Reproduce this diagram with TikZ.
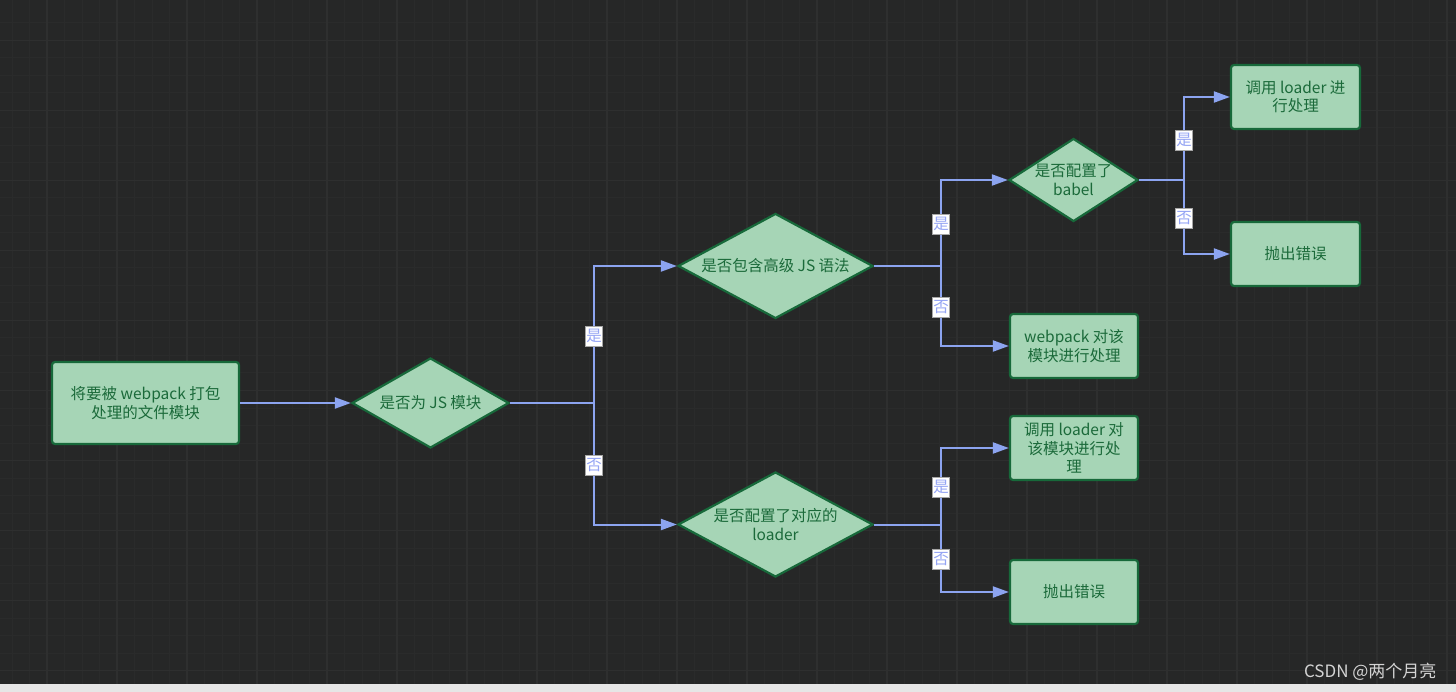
\documentclass[tikz,border=0pt]{standalone}
\usepackage{fontspec}
\setmainfont{Noto Sans CJK SC}
\usetikzlibrary{shapes.geometric,arrows.meta}
\definecolor{bgc}{HTML}{262727}
\definecolor{gridminor}{HTML}{2A2B2B}
\definecolor{gridmajor}{HTML}{2E2F2F}
\definecolor{nodefill}{HTML}{A6D5B6}
\definecolor{nodeborder}{HTML}{17693A}
\definecolor{nodetext}{HTML}{1B6A3A}
\definecolor{linec}{HTML}{8CA4F0}
\definecolor{lbltext}{HTML}{94A4F4}
\definecolor{stripc}{HTML}{E6E6E6}
\definecolor{wmc}{HTML}{D4D4D4}
\begin{document}
\begin{tikzpicture}[x=1pt,y=-1pt,
  every node/.style={font=\fontsize{15.5}{18.5}\selectfont},
  procbox/.style={draw=nodeborder, line width=2.2pt, fill=nodefill, rounded corners=3pt,
     text=nodetext, align=center, inner sep=0pt},
  decbox/.style={diamond, draw=nodeborder, line width=2.2pt, fill=nodefill,
     text=nodetext, align=center, inner sep=0pt},
  conn/.style={draw=linec, line width=2pt},
  arr/.style={conn, -{Triangle[length=16pt,width=11pt]}},
  lbl/.style={draw=gray!70, line width=0.8pt, fill=white, text=lbltext, inner sep=1pt,
     minimum width=17pt, minimum height=20pt}
]
\useasboundingbox (0,0) rectangle (1456,692);
% background
\fill[bgc] (-2,-2) rectangle (1458,694);
\foreach \x in {12,29.5,...,1456} \draw[gridminor, line width=1pt] (\x,0) -- (\x,684);
\foreach \y in {23,40.5,...,684} \draw[gridminor, line width=1pt] (0,\y) -- (1456,\y);
\foreach \x in {47,117,...,1456} \draw[gridmajor, line width=1.2pt] (\x,0) -- (\x,684);
\foreach \y in {40.5,110.5,...,684} \draw[gridmajor, line width=1.2pt] (0,\y) -- (1456,\y);
\fill[stripc] (-2,684) rectangle (1458,694);

% nodes
\node[procbox, minimum width=187pt, minimum height=82pt] (start) at (145.5,403) {将要被 webpack 打包\\处理的文件模块};
\node[decbox, minimum width=157pt, minimum height=90pt, shape aspect=1.74] (d1) at (430.5,403) {是否为 JS 模块};
\node[decbox, minimum width=195pt, minimum height=105pt, shape aspect=1.86] (d2) at (775.5,266) {是否包含高级 JS 语法};
\node[decbox, minimum width=195pt, minimum height=105pt, shape aspect=1.86] (d3) at (775.5,524.5) {是否配置了对应的\\loader};
\node[decbox, minimum width=129pt, minimum height=83pt, shape aspect=1.55] (d4) at (1073.5,180) {是否配置了\\babel};
\node[procbox, minimum width=129pt, minimum height=64pt] (r1) at (1295.5,97) {调用 loader 进\\行处理};
\node[procbox, minimum width=129pt, minimum height=64pt] (r2) at (1295.5,254) {抛出错误};
\node[procbox, minimum width=128pt, minimum height=64pt] (r3) at (1074,346) {webpack 对该\\模块进行处理};
\node[procbox, minimum width=128pt, minimum height=64pt] (r4) at (1074,448) {调用 loader 对\\该模块进行处\\理};
\node[procbox, minimum width=128pt, minimum height=64pt] (r5) at (1074,592) {抛出错误};

% junctions
\coordinate (j1) at (594,403);
\coordinate (j2) at (941,266);
\coordinate (j3) at (941,524.5);
\coordinate (j4) at (1184,180);

% connectors
\draw[arr] (start) -- (d1);
\draw[conn] (d1.east) -- (j1);
\draw[arr] (j1) |- (d2.west);
\draw[arr] (j1) |- (d3.west);
\draw[conn] (d2.east) -- (j2);
\draw[arr] (j2) |- (d4.west);
\draw[arr] (j2) |- (r3.west);
\draw[conn] (d3.east) -- (j3);
\draw[arr] (j3) |- (r4.west);
\draw[arr] (j3) |- (r5.west);
\draw[conn] (d4.east) -- (j4);
\draw[arr] (j4) |- (r1.west);
\draw[arr] (j4) |- (r2.west);

% labels
\node[lbl] (l1) at (594,336) {是};
\node[lbl] (l2) at (594,465) {否};
\node[lbl] (l3) at (941,224) {是};
\node[lbl] (l4) at (941,307) {否};
\node[lbl] (l5) at (941,487) {是};
\node[lbl] (l6) at (941,559) {否};
\node[lbl] (l7) at (1184,140) {是};
\node[lbl] (l8) at (1184,218) {否};

% watermark
\node[text=wmc, anchor=east, font=\fontsize{17}{20}\selectfont] (wm) at (1440,672) {CSDN @两个月亮};
\end{tikzpicture}
\end{document}
